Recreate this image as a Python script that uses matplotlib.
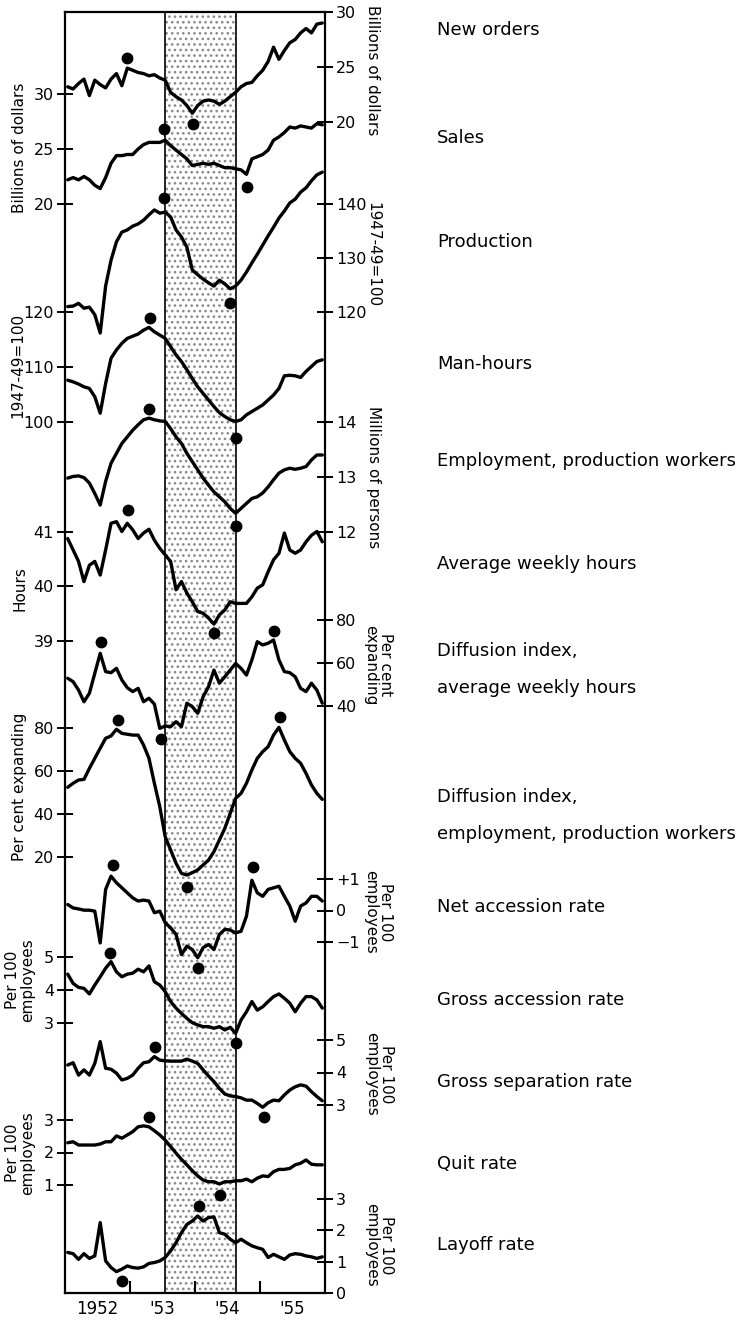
import numpy as np
import matplotlib
matplotlib.use("Agg")
import matplotlib.pyplot as plt

# ---------------- data (monthly, Jan 1952 - Dec 1955) ----------------
months = np.arange(48)
years_x = 1952 + (months + 0.5) / 12

new_orders = [23.2, 23.0, 23.5, 23.9, 22.4, 23.8, 23.4, 23.1, 23.9, 24.4, 23.3, 24.9,
              24.7, 24.5, 24.4, 24.2, 24.3, 24.0, 23.8, 22.7, 22.3, 22.0, 21.5, 20.8,
              21.5, 21.9, 22.0, 21.9, 21.6, 21.9, 22.3, 22.7, 23.2, 23.5, 23.6, 24.2,
              24.7, 25.5, 26.8, 25.7, 26.5, 27.2, 27.5, 28.1, 28.5, 28.1, 28.9, 29.0]
sales = [22.2, 22.4, 22.2, 22.5, 22.2, 21.7, 21.4, 22.4, 23.7, 24.4, 24.4, 24.5,
         24.5, 25.0, 25.4, 25.6, 25.6, 25.6, 25.8, 25.3, 24.9, 24.5, 24.1, 23.5,
         23.6, 23.7, 23.6, 23.7, 23.5, 23.3, 23.3, 23.2, 23.1, 22.7, 24.1, 24.3,
         24.5, 24.9, 25.8, 26.1, 26.5, 27.0, 26.9, 27.1, 27.0, 26.9, 27.3, 27.2]
production = [121.0, 121.1, 121.6, 120.7, 120.9, 119.5, 116.1, 124.8, 129.6, 133.0, 134.8, 135.2,
              135.9, 136.3, 137.0, 138.0, 138.9, 138.3, 138.5, 137.6, 135.2, 133.9, 132.0, 127.8,
              126.9, 126.1, 125.4, 124.8, 125.9, 125.2, 124.3, 124.8, 125.9, 127.4, 129.1, 130.7,
              132.4, 134.1, 135.7, 137.4, 138.7, 140.2, 140.9, 142.2, 143.0, 144.3, 145.4, 145.9]
man_hours = [107.6, 107.3, 106.9, 106.4, 106.1, 104.6, 101.6, 107.0, 111.6, 113.1, 114.3, 115.2,
             115.6, 116.0, 116.7, 117.2, 116.4, 115.8, 115.2, 113.7, 112.2, 111.0, 109.5, 107.9,
             106.4, 105.2, 104.0, 102.8, 101.7, 101.0, 100.4, 100.1, 100.4, 101.3, 101.9, 102.5,
             103.1, 104.0, 104.9, 106.1, 108.4, 108.5, 108.4, 108.1, 109.2, 110.1, 111.0, 111.3]
employment = [12.98, 13.01, 13.02, 12.99, 12.89, 12.70, 12.49, 12.92, 13.25, 13.43, 13.61, 13.73,
              13.85, 13.95, 14.04, 14.07, 14.04, 14.02, 14.01, 13.88, 13.73, 13.61, 13.43, 13.28,
              13.13, 12.98, 12.85, 12.73, 12.64, 12.55, 12.43, 12.34, 12.43, 12.52, 12.61, 12.64,
              12.71, 12.82, 12.95, 13.07, 13.13, 13.16, 13.14, 13.16, 13.19, 13.31, 13.40, 13.40]
weekly_hours = [40.88, 40.67, 40.46, 40.09, 40.39, 40.46, 40.21, 40.67, 41.16, 41.19, 41.01, 41.16,
                41.04, 40.88, 40.98, 41.05, 40.85, 40.70, 40.58, 40.46, 39.94, 40.09, 39.88, 39.72,
                39.54, 39.51, 39.42, 39.31, 39.48, 39.57, 39.72, 39.69, 39.69, 39.69, 39.81, 39.97,
                40.03, 40.27, 40.49, 40.61, 40.98, 40.67, 40.61, 40.67, 40.82, 40.94, 41.01, 40.82]
diff_hours = [52.9, 51.3, 47.4, 42.0, 45.9, 55.2, 64.5, 56.0, 55.5, 57.5, 52.1, 48.5,
              46.7, 48.2, 42.0, 43.6, 40.9, 29.6, 30.7, 30.4, 32.7, 30.4, 41.3, 39.7,
              36.6, 44.3, 49.0, 56.7, 50.6, 53.6, 56.7, 59.8, 57.5, 54.4, 61.4, 69.9,
              68.4, 69.2, 70.7, 61.4, 56.0, 55.5, 53.6, 48.2, 46.7, 50.6, 47.4, 41.3]
diff_emp = [52.4, 54.3, 55.8, 56.1, 61.2, 65.9, 70.6, 75.2, 76.3, 79.4, 77.5, 77.1,
            76.7, 76.7, 72.1, 65.9, 54.3, 43.4, 29.4, 23.3, 17.1, 12.4, 11.6, 12.7,
            14.0, 16.3, 18.6, 22.5, 27.9, 33.3, 40.3, 47.3, 49.6, 54.3, 60.5, 65.9,
            69.0, 71.3, 76.7, 80.3, 74.4, 69.0, 65.9, 63.6, 58.9, 53.5, 49.6, 46.8]
net_accession = [0.19, 0.08, 0.05, 0.01, 0.01, -0.02, -1.03, 0.67, 1.09, 0.88, 0.72, 0.56,
                 0.40, 0.30, 0.33, 0.30, -0.07, -0.02, -0.39, -0.55, -0.76, -1.40, -1.13, -1.24,
                 -1.50, -1.18, -1.08, -1.24, -0.76, -0.60, -0.62, -0.71, -0.66, -0.18, 0.96, 0.56,
                 0.45, 0.67, 0.72, 0.77, 0.45, 0.14, -0.34, 0.14, 0.24, 0.45, 0.45, 0.30]
gross_accession = [4.48, 4.20, 4.08, 4.05, 3.88, 4.15, 4.40, 4.66, 4.86, 4.55, 4.40, 4.48,
                   4.51, 4.63, 4.55, 4.73, 4.25, 4.15, 3.95, 3.65, 3.45, 3.29, 3.14, 3.01,
                   2.94, 2.89, 2.89, 2.84, 2.89, 2.79, 2.87, 2.69, 3.09, 3.34, 3.65, 3.39,
                   3.49, 3.65, 3.80, 3.88, 3.75, 3.60, 3.34, 3.60, 3.80, 3.80, 3.70, 3.45]
gross_separation = [4.23, 4.30, 3.92, 4.08, 3.92, 4.28, 4.95, 4.13, 4.10, 3.98, 3.77, 3.82,
                    3.92, 4.13, 4.30, 4.33, 4.49, 4.38, 4.36, 4.35, 4.35, 4.35, 4.41, 4.35,
                    4.28, 4.08, 3.89, 3.72, 3.51, 3.34, 3.28, 3.26, 3.22, 3.15, 3.15, 3.05,
                    2.93, 3.07, 3.15, 3.13, 3.31, 3.46, 3.56, 3.62, 3.58, 3.41, 3.26, 3.13]
quit_rate = [2.30, 2.33, 2.23, 2.23, 2.23, 2.23, 2.26, 2.33, 2.33, 2.51, 2.44, 2.54,
             2.64, 2.79, 2.82, 2.79, 2.67, 2.54, 2.38, 2.18, 1.98, 1.79, 1.62, 1.44,
             1.28, 1.15, 1.10, 1.10, 1.03, 1.10, 1.10, 1.13, 1.13, 1.18, 1.10, 1.21,
             1.28, 1.26, 1.41, 1.48, 1.48, 1.51, 1.62, 1.67, 1.77, 1.64, 1.62, 1.62]
layoff_rate = [1.29, 1.25, 1.07, 1.25, 1.10, 1.18, 2.24, 1.02, 0.81, 0.68, 0.76, 0.86,
               0.81, 0.79, 0.83, 0.94, 0.97, 1.02, 1.13, 1.34, 1.60, 1.92, 2.18, 2.29,
               2.45, 2.29, 2.40, 2.42, 1.92, 1.87, 1.71, 1.60, 1.71, 1.60, 1.50, 1.44,
               1.39, 1.13, 1.23, 1.15, 1.07, 1.21, 1.25, 1.23, 1.18, 1.15, 1.10, 1.15]

# turning-point dots: month index (0 = Jan 1952) and value on the series' scale
new_orders_dot_m, new_orders_dot_v = [10.9, 23.1], [25.8, 19.8]
sales_dot_m, sales_dot_v = [17.8, 33.1], [26.8, 21.5]
production_dot_m, production_dot_v = [17.8, 29.9], [141.1, 121.7]
man_hours_dot_m, man_hours_dot_v = [15.2, 31.0], [118.9, 97.1]
employment_dot_m, employment_dot_v = [15.0, 31.0], [14.24, 12.11]
weekly_hours_dot_m, weekly_hours_dot_v = [11.1, 27.0], [41.40, 39.15]
diff_hours_dot_m, diff_hours_dot_v = [6.1, 17.2, 38.1], [69.8, 24.7, 74.9]
diff_emp_dot_m, diff_emp_dot_v = [9.3, 22.0, 39.2], [83.7, 6.0, 85.3]
net_accession_dot_m, net_accession_dot_v = [8.4, 24.0, 34.2], [1.43, -1.81, 1.37]
gross_accession_dot_m, gross_accession_dot_v = [7.8, 31.0], [5.12, 2.39]
gross_separation_dot_m, gross_separation_dot_v = [16.1, 36.2], [4.79, 2.62]
quit_dot_m, quit_dot_v = [15.0, 28.1], [3.09, 0.69]
layoff_dot_m, layoff_dot_v = [24.2, 10.0], [2.78, 0.39]

year_labels = ["1952", "'53", "'54", "'55"]
recession = (1953 + 6.5 / 12, 1954 + 7.5 / 12)   # July 1953 - Aug 1954

series_labels = ["New orders", "Sales", "Production", "Man-hours",
                 "Employment, production workers", "Average weekly hours",
                 "Diffusion index,\naverage weekly hours",
                 "Diffusion index,\nemployment, production workers",
                 "Net accession rate", "Gross accession rate",
                 "Gross separation rate", "Quit rate", "Layoff rate"]

# ---------------- layout ----------------
W, H, DPI = 745, 1320, 100
AX_L, AX_R, AX_T, AX_B = 65, 325, 12, 1293
FONT = "DejaVu Sans"
plt.rcParams['font.family'] = [FONT]
plt.rcParams['hatch.linewidth'] = 1.1
plt.rcParams['hatch.color'] = '#8a8a8a'

fig = plt.figure(figsize=(W / DPI, H / DPI), dpi=DPI)
rect = [AX_L / W, 1 - AX_B / H, (AX_R - AX_L) / W, (AX_B - AX_T) / H]


def fx(px):
    return px / W


def fy(py):
    return 1 - py / H


base = fig.add_axes(rect)
base.set_xlim(1952, 1956)
base.set_ylim(0, 1)
base.set_yticks([])
base.set_xticks([1953, 1954, 1955])
base.set_xticklabels([])
base.set_xticks([1952.5, 1953.5, 1954.5, 1955.5], minor=True)
base.set_xticklabels(year_labels, minor=True)
base.tick_params(axis='x', which='major', direction='in', length=9, width=1.5)
base.tick_params(axis='x', which='minor', length=0, labelsize=12, pad=5)
for sp in base.spines.values():
    sp.set_linewidth(1.6)
base.axvspan(recession[0], recession[1], facecolor='white', hatch='...',
             edgecolor='#8a8a8a', linewidth=0, zorder=0)
for xr in recession:
    base.axvline(xr, color='black', lw=1.2, zorder=1)


def add_series(vals, dot_m, dot_v, v0, y0, scale, side, ticks, ticklabels=None):
    ax = fig.add_axes(rect)
    ax.patch.set_visible(False)
    for sp in ax.spines.values():
        sp.set_visible(False)
    ax.set_xlim(1952, 1956)
    ax.set_xticks([])
    top = v0 + (y0 - AX_T) / scale
    bot = v0 - (AX_B - y0) / scale
    ax.set_ylim(bot, top)
    ax.plot(years_x, vals, color='black', lw=2.4, solid_joinstyle='round',
            solid_capstyle='round')
    dx = 1952 + (np.array(dot_m) + 0.5) / 12
    ax.plot(dx, dot_v, 'o', color='black', ms=7.5, clip_on=False)
    ax.set_yticks(ticks)
    if ticklabels is not None:
        ax.set_yticklabels(ticklabels)
    if side == 'left':
        ax.yaxis.tick_left()
    else:
        ax.yaxis.tick_right()
    ax.tick_params(axis='y', direction='inout', length=12, width=1.4,
                   labelsize=11.5, pad=2)
    return ax


add_series(new_orders, new_orders_dot_m, new_orders_dot_v, 30, 12, 11, 'right', [20, 25, 30])
add_series(sales, sales_dot_m, sales_dot_v, 30, 94, 11, 'left', [20, 25, 30])
add_series(production, production_dot_m, production_dot_v, 140, 204, 5.4, 'right', [120, 130, 140])
add_series(man_hours, man_hours_dot_m, man_hours_dot_v, 120, 312, 5.5, 'left', [100, 110, 120])
add_series(employment, employment_dot_m, employment_dot_v, 14, 422, 55, 'right', [12, 13, 14])
add_series(weekly_hours, weekly_hours_dot_m, weekly_hours_dot_v, 41, 532, 54.5, 'left', [39, 40, 41])
add_series(diff_hours, diff_hours_dot_m, diff_hours_dot_v, 80, 620, 2.15, 'right', [40, 60, 80])
add_series(diff_emp, diff_emp_dot_m, diff_emp_dot_v, 80, 728, 2.15, 'left', [20, 40, 60, 80])
add_series(net_accession, net_accession_dot_m, net_accession_dot_v, 1, 879, 31.5, 'right',
           [-1, 0, 1], ["\u22121", "0", "+1"])
add_series(gross_accession, gross_accession_dot_m, gross_accession_dot_v, 5, 957, 33, 'left', [3, 4, 5])
add_series(gross_separation, gross_separation_dot_m, gross_separation_dot_v, 5, 1040, 32.5, 'right', [3, 4, 5])
add_series(quit_rate, quit_dot_m, quit_dot_v, 3, 1120, 32.5, 'left', [1, 2, 3])
add_series(layoff_rate, layoff_dot_m, layoff_dot_v, 3, 1201, 31.5, 'right', [0, 1, 2, 3])

# ---------------- unit labels ----------------
left_units = [("Billions of dollars", 20, 148), ("1947-49=100", 18, 365),
              ("Hours", 20, 589), ("Per cent expanding", 20, 787),
              ("Per 100\nemployees", 20, 980), ("Per 100\nemployees", 20, 1153)]
right_units = [("Billions of dollars", 372, 70), ("1947-49=100", 373, 255),
               ("Millions of persons", 373, 477), ("Per cent\nexpanding", 378, 665),
               ("Per 100\nemployees", 378, 912), ("Per 100\nemployees", 379, 1074),
               ("Per 100\nemployees", 379, 1245)]
for txt, px, py in left_units:
    fig.text(fx(px), fy(py), txt, rotation=90, ha='center', va='center',
             fontsize=11, linespacing=1.0)
for txt, px, py in right_units:
    fig.text(fx(px), fy(py), txt, rotation=270, ha='center', va='center',
             fontsize=11, linespacing=1.0)

# ---------------- series names ----------------
label_y = [(30,), (138,), (242,), (364,), (461,), (564,), (651, 688), (797, 834),
           (907,), (1000,), (1082,), (1164,), (1245,)]
for txt, ys in zip(series_labels, label_y):
    for line, py in zip(txt.split("\n"), ys):
        fig.text(fx(437), fy(py), line, ha='left', va='center', fontsize=13)

fig.savefig("out.png", dpi=DPI)
